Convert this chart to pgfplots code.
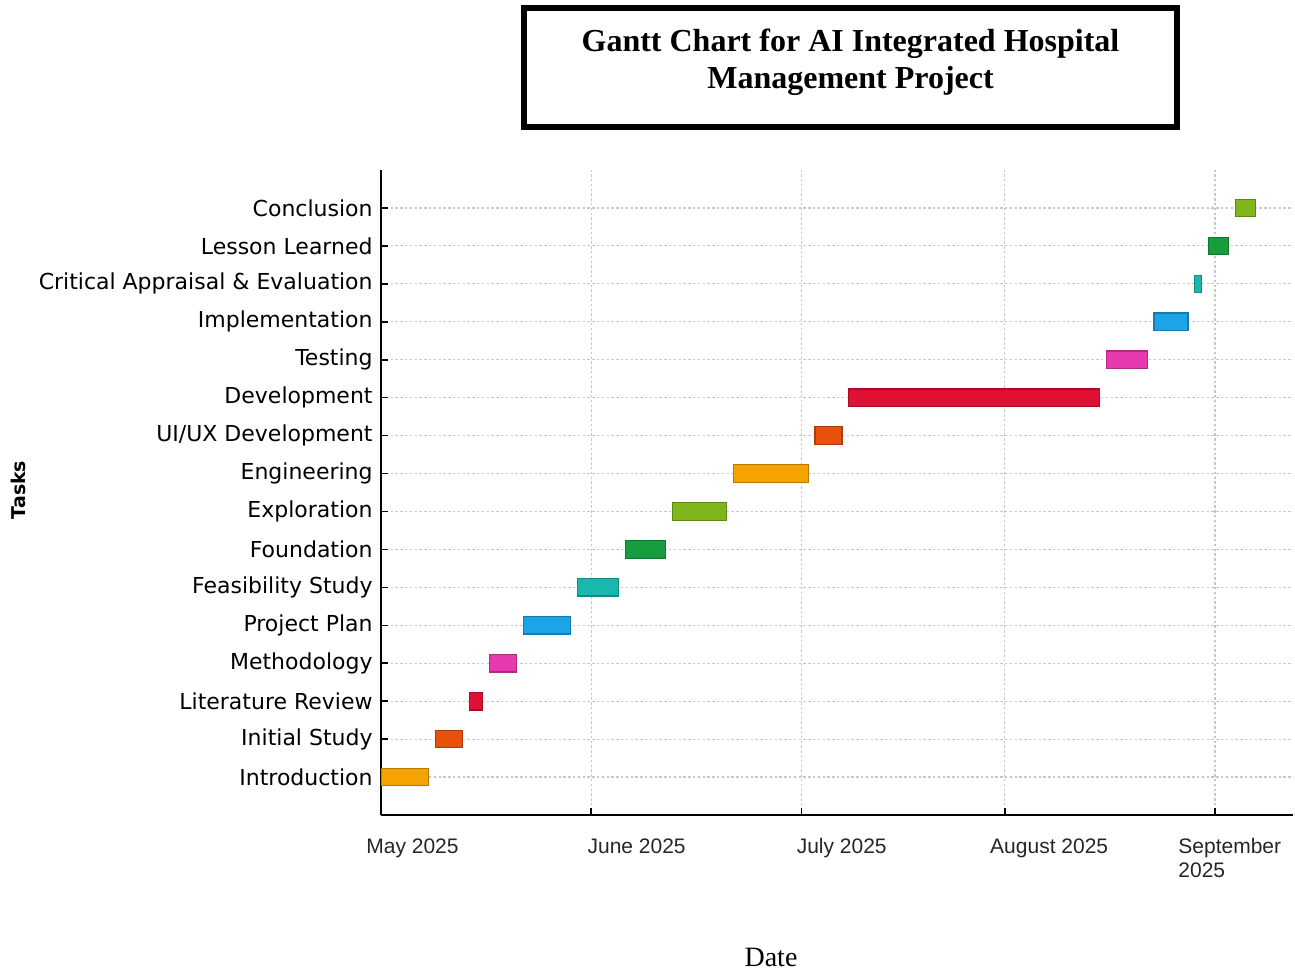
\documentclass[border=0pt]{standalone}
\usepackage{pgfplots}
\pgfplotsset{compat=1.18}
\usepackage{fontspec}
\setmainfont{Liberation Serif}
\newfontfamily\djv{DejaVu Sans}
\newfontfamily\lsans{Liberation Sans}

\definecolor{cOrange}{HTML}{F5A300}
\definecolor{cRedOr}{HTML}{E8500C}
\definecolor{cCrimson}{HTML}{E01035}
\definecolor{cMagenta}{HTML}{E63AAE}
\definecolor{cBlue}{HTML}{1CA3E8}
\definecolor{cTeal}{HTML}{19B8AE}
\definecolor{cGreen}{HTML}{179C3E}
\definecolor{cLime}{HTML}{80B61C}

% start, end, lower y, upper y, colour
\newcommand{\taskbar}[5]{%
  \addplot[fill=#5, draw=#5!75!black, line width=0.6pt]
    coordinates {(#1,#3) (#2,#3) (#2,#4) (#1,#4)} -- cycle;}

\begin{document}
\begin{tikzpicture}
\useasboundingbox (0,0) rectangle (647.5pt,485.5pt);
\begin{axis}[
  at={(190.5pt,78pt)}, anchor=south west,
  scale only axis, width=456pt, height=322.5pt,
  xmin=0, xmax=134.5, ymin=-1, ymax=16,
  axis lines=left, axis line style={-, line width=1pt, black},
  tick align=inside, major tick length=3.5pt,
  tick style={black, line width=0.8pt},
  xtick={0,31,62,92,123},
  xticklabels={{\hspace*{-7.5pt}May 2025},{\hspace*{-2pt}June 2025},{\hspace*{-2.5pt}July 2025},{\hspace*{-7.5pt}August 2025},{\hspace*{-18.5pt}September\\\hspace*{-18.5pt}2025}},
  xticklabel style={font=\lsans\fontsize{10.5}{12}\selectfont, anchor=north west, inner sep=0pt, yshift=-11.5pt, align=left, text=black!85},
  ytick={0,...,15},
  yticklabels={Introduction,Initial Study,Literature Review,Methodology,Project Plan,Feasibility Study,Foundation,Exploration,Engineering,UI/UX Development,Development,Testing,Implementation,Critical Appraisal \& Evaluation,Lesson Learned,Conclusion},
  yticklabel style={font=\djv\fontsize{11}{13}\selectfont, inner sep=0pt, xshift=-4pt},
  grid=major,
  major grid style={gray!45, line width=0.6pt, dash pattern=on 1.2pt off 1.2pt},
]
\taskbar{0}{7}{-0.23}{0.23}{cOrange}
\taskbar{8}{12}{0.77}{1.23}{cRedOr}
\taskbar{13}{15}{1.77}{2.23}{cCrimson}
\taskbar{16}{20}{2.77}{3.23}{cMagenta}
\taskbar{21}{28}{3.77}{4.23}{cBlue}
\taskbar{29}{35}{4.77}{5.23}{cTeal}
\taskbar{36}{42}{5.77}{6.23}{cGreen}
\taskbar{43}{51}{6.77}{7.23}{cLime}
\taskbar{52}{63}{7.77}{8.23}{cOrange}
\taskbar{64}{68}{8.77}{9.23}{cRedOr}
\taskbar{69}{106}{9.77}{10.23}{cCrimson}
\taskbar{107}{113}{10.77}{11.23}{cMagenta}
\taskbar{114}{119}{11.77}{12.23}{cBlue}
\taskbar{120}{121}{12.77}{13.23}{cTeal}
\taskbar{122}{125}{13.77}{14.23}{cGreen}
\taskbar{126}{129}{14.77}{15.23}{cLime}
\end{axis}
% title box
\draw[line width=3pt] (262pt,422pt) rectangle (588.5pt,481.5pt);
\node[align=center, font=\bfseries\fontsize{16}{18.5}\selectfont] at (425.25pt,454.5pt)
  {Gantt Chart for AI Integrated Hospital\\Management Project};
% axis labels
\node[font=\fontsize{14}{16}\selectfont] at (385.5pt,7pt) {Date};
\node[rotate=90, font=\djv\bfseries\fontsize{9.5}{11}\selectfont] at (9pt,240.5pt) {Tasks};
\end{tikzpicture}
\end{document}
